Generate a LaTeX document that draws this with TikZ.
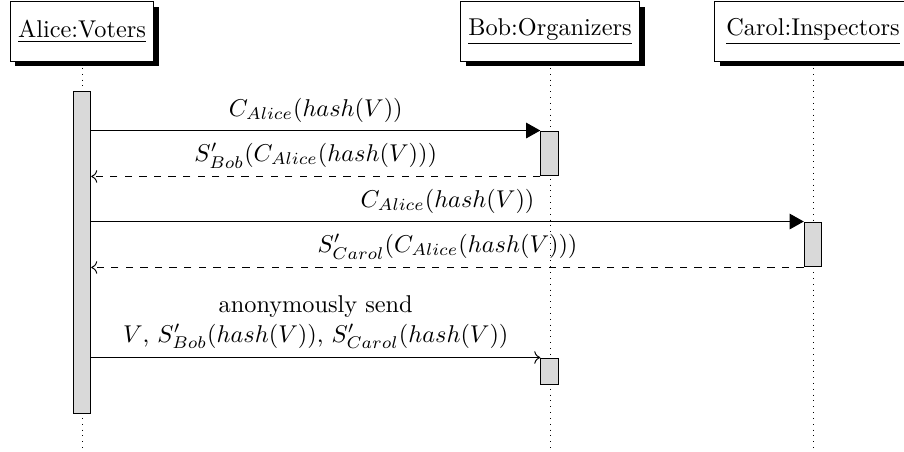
\documentclass[tikz,border=0pt]{standalone}
\usetikzlibrary{shadows,arrows.meta}
\begin{document}
\begin{tikzpicture}[x=0.4115pt,y=-0.4115pt,
  inst/.style={rectangle,draw,fill=white,minimum height=24.3pt,inner sep=3.33pt,
    drop shadow={opacity=1,fill=black,shadow xshift=2.2pt,shadow yshift=-2.2pt}},
  life/.style={dotted,line width=0.4pt},
  actbar/.style={rectangle,draw,fill=gray!30,minimum width=7.2pt,inner sep=0pt},
  call/.style={-{Triangle[length=5.8pt,width=6.4pt]}},
  ret/.style={dashed,->},
  plainmsg/.style={->},
  lbl/.style={above=3.2pt,inner sep=0pt}]
\useasboundingbox (0,0) rectangle (904,452);
% lifeline ends
\coordinate (aend) at (82,450);
\coordinate (bend) at (550,450);
\coordinate (cend) at (813,450);
\coordinate (atop) at (82,68);
\coordinate (btop) at (550,68);
\coordinate (ctop) at (813,68);
\draw[life] (atop) -- (aend);
\draw[life] (btop) -- (bend);
\draw[life] (ctop) -- (cend);
% instances
\node[inst] (alice) at (82,31.5) {\underline{Alice:Voters}};
\node[inst] (bob) at (550,31.5) {\underline{Bob:Organizers}};
\node[inst,inner xsep=5pt] (carol) at (813,31.5) {\underline{Carol:Inspectors}};
% activation bars
\node[actbar,minimum height=132.5pt] (aact) at (82,252) {};
\node[actbar,minimum height=18.5pt] (bact1) at (549.5,153.5) {};
\node[actbar,minimum height=18.5pt] (cact) at (813,244.5) {};
\node[actbar,minimum height=11.1pt] (bact2) at (549.5,371.5) {};
% messages
\draw[call] (bact1.north west -| aact.east) -- (bact1.north west)
  node[midway,lbl] {$C_{Alice}(hash(V))$};
\draw[ret] (bact1.south west) -- (bact1.south west -| aact.east)
  node[midway,lbl] {$S'_{Bob}(C_{Alice}(hash(V)))$};
\draw[call] (cact.north west -| aact.east) -- (cact.north west)
  node[midway,lbl] {$C_{Alice}(hash(V))$};
\draw[ret] (cact.south west) -- (cact.south west -| aact.east)
  node[midway,lbl] {$S'_{Carol}(C_{Alice}(hash(V)))$};
\draw[plainmsg] (bact2.north west -| aact.east) -- (bact2.north west)
  node[midway,above,align=center] {anonymously send\\$V$, $S'_{Bob}(hash(V))$, $S'_{Carol}(hash(V))$};
\end{tikzpicture}
\end{document}
